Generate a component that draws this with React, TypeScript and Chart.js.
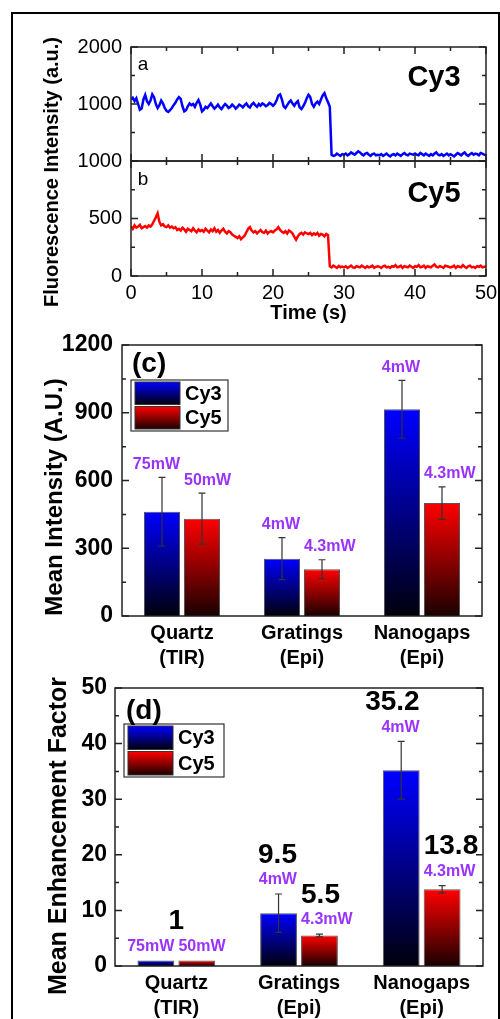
import React, { useEffect, useRef } from "react";
import { Chart, registerables } from "chart.js";

Chart.register(...registerables);

const FONT = "'Liberation Sans', Arial, Helvetica, sans-serif";
Chart.defaults.font.family = FONT;
Chart.defaults.color = "#000";

// ---------------- data ----------------
const timeStepSeconds = 0.25;
const timeTicks = [0, 10, 20, 30, 40, 50];

// Cy3 single-molecule trace (a.u.), one value every 0.25 s from 0 to 50 s
const cy3Trace = [
  1080, 1110, 1050, 1100, 1000, 900, 920, 1080, 1160, 1050, 1000, 1060, 1170, 1120, 1000, 930, 980, 1060, 1010, 930,
  880, 860, 890, 930, 980, 1020, 1080, 1120, 1090, 960, 870, 890, 960, 1010, 980, 1000, 950, 1020, 1070, 990,
  870, 900, 950, 930, 970, 1010, 960, 920, 950, 990, 940, 910, 960, 1000, 970, 930, 950, 990, 960, 920,
  950, 990, 970, 940, 980, 1010, 960, 940, 990, 1020, 980, 950, 1000, 970, 1010, 990, 960, 980, 1020, 1000,
  970, 1000, 1060, 1150, 1170, 1080, 960, 930, 980, 1030, 1060, 1010, 970, 1020, 1050, 940, 910, 960, 1020, 1100,
  1160, 1120, 1000, 950, 1010, 1040, 1000, 1080, 1150, 1190, 1100, 1030, 950, 110, 90, 100, 130, 110, 90, 120,
  110, 130, 100, 120, 150, 130, 110, 140, 170, 150, 120, 100, 130, 140, 110, 90, 120, 130, 100, 110,
  100, 120, 90, 110, 130, 100, 80, 110, 120, 100, 130, 110, 90, 120, 140, 110, 100, 130, 120, 110,
  130, 110, 100, 140, 120, 100, 130, 110, 90, 120, 100, 130, 150, 110, 100, 120, 90, 110, 130, 100,
  120, 100, 80, 110, 140, 120, 100, 130, 150, 110, 90, 120, 140, 110, 130, 120, 100, 140, 130, 110,
  100,
];

// Cy5 single-molecule trace (a.u.), one value every 0.25 s from 0 to 50 s
const cy5Trace = [
  430, 410, 440, 420, 430, 445, 415, 425, 435, 420, 440, 430, 450, 480, 510, 545, 470, 440, 450, 430,
  425, 440, 420, 430, 415, 425, 400, 410, 395, 420, 405, 385, 410, 400, 390, 415, 395, 380, 405, 390,
  400, 385, 410, 395, 380, 405, 390, 415, 385, 400, 375, 395, 410, 385, 370, 390, 380, 360, 350, 340,
  330, 345, 320, 335, 350, 380, 410, 425, 395, 380, 390, 370, 385, 400, 380, 375, 395, 370, 385, 390,
  380, 395, 405, 425, 400, 385, 375, 390, 370, 395, 385, 370, 340, 315, 345, 365, 375, 360, 380, 370,
  365, 375, 355, 370, 360, 375, 350, 365, 360, 345, 365, 355, 85, 75, 90, 80, 70, 88, 76, 82,
  75, 85, 70, 80, 90, 75, 70, 85, 80, 75, 90, 80, 70, 85, 75, 80, 90, 70, 80, 85,
  80, 70, 85, 90, 75, 80, 70, 85, 80, 95, 75, 80, 90, 70, 85, 80, 75, 90, 80, 70,
  85, 80, 95, 75, 80, 90, 70, 85, 80, 75, 90, 100, 80, 75, 85, 80, 70, 90, 85, 80,
  75, 80, 90, 70, 85, 80, 75, 95, 80, 70, 85, 90, 75, 80, 70, 85, 80, 90, 75, 80,
  80,
];

const barCategories = [
  ["Quartz", "(TIR)"],
  ["Gratings", "(Epi)"],
  ["Nanogaps", "(Epi)"],
];
const seriesNames = ["Cy3", "Cy5"];

// (c) mean intensity
const intensityCy3 = [462, 254, 915];
const intensityCy3Err = [152, 93, 128];
const intensityCy5 = [431, 207, 500];
const intensityCy5Err = [113, 42, 72];

// excitation power labels
const powerCy3 = ["75mW", "4mW", "4mW"];
const powerCy5 = ["50mW", "4.3mW", "4.3mW"];

// (d) mean enhancement factor
const enhancementCy3 = [1, 9.5, 35.2];
const enhancementCy3Err = [0, 3.45, 5.2];
const enhancementCy5 = [1, 5.5, 13.8];
const enhancementCy5Err = [0, 0.25, 0.65];
const enhancementCy3Text = ["", "9.5", "35.2"];
const enhancementCy5Text = ["", "5.5", "13.8"];
const enhancementGroupText = ["1", "", ""];

// ---------------- styling ----------------
const PURPLE = "#9933ff";
const BLUE_TOP = "#0000ff";
const BLUE_BOTTOM = "#00000c";
const RED_TOP = "#ff0000";
const RED_BOTTOM = "#1a0000";

function verticalGradient(top: string, bottom: string) {
  return (c: any) => {
    const chart = c.chart;
    if (!chart.chartArea || c.type !== "data") return top;
    const y = chart.scales.y;
    const v = c.parsed ? c.parsed.y : c.raw;
    const y0 = y.getPixelForValue(v);
    const y1 = y.getPixelForValue(0);
    if (!isFinite(y0) || !isFinite(y1) || Math.abs(y1 - y0) < 0.5) return top;
    const g = chart.ctx.createLinearGradient(0, y0, 0, y1);
    g.addColorStop(0, top);
    g.addColorStop(1, bottom);
    return g;
  };
}

// remove automatic label-overflow padding so the plot area stays where it is set
function clearScalePadding(s: any) {
  s.paddingTop = 0;
  s.paddingBottom = 0;
  s.paddingLeft = 0;
  s.paddingRight = 0;
}

// frame + inward tick marks (major from the scale ticks, minor halfway)
function makeFramePlugin(xTicks: boolean, yTicks: boolean) {
  return {
    id: "frame",
    afterDatasetsDraw(chart: any) {
      const { ctx, chartArea: a } = chart;
      ctx.save();
      ctx.strokeStyle = "#222";
      ctx.lineWidth = 1.5;
      const drawAxis = (scale: any, horizontal: boolean) => {
        const vals = scale.ticks.map((t: any) => t.value);
        const marks: number[][] = [];
        vals.forEach((v: number, i: number) => {
          marks.push([v, 7]);
          if (i < vals.length - 1) marks.push([(v + vals[i + 1]) / 2, 4]);
        });
        ctx.beginPath();
        marks.forEach(([v, len]) => {
          const p = scale.getPixelForValue(v);
          if (horizontal) {
            ctx.moveTo(p, a.bottom);
            ctx.lineTo(p, a.bottom - len);
            ctx.moveTo(p, a.top);
            ctx.lineTo(p, a.top + len);
          } else {
            ctx.moveTo(a.left, p);
            ctx.lineTo(a.left + len, p);
            ctx.moveTo(a.right, p);
            ctx.lineTo(a.right - len, p);
          }
        });
        ctx.stroke();
      };
      if (xTicks) drawAxis(chart.scales.x, true);
      if (yTicks) drawAxis(chart.scales.y, false);
      ctx.strokeRect(a.left, a.top, a.right - a.left, a.bottom - a.top);
      ctx.restore();
    },
  };
}

type TextItem = {
  text: string;
  x: number;
  y: number;
  font: string;
  align?: string;
  baseline?: string;
  rotate?: number;
  color?: string;
};

function makeTextPlugin(items: TextItem[], offsetY: number) {
  return {
    id: "panelText",
    afterDraw(chart: any) {
      const { ctx } = chart;
      items.forEach((it) => {
        ctx.save();
        ctx.font = it.font;
        ctx.fillStyle = it.color || "#000";
        ctx.textAlign = it.align || "center";
        ctx.textBaseline = it.baseline || "alphabetic";
        ctx.translate(it.x, it.y - offsetY);
        if (it.rotate) ctx.rotate(it.rotate);
        ctx.fillText(it.text, 0, 0);
        ctx.restore();
      });
    },
  };
}

const errorBarPlugin = {
  id: "errorBars",
  afterDatasetsDraw(chart: any) {
    const { ctx } = chart;
    const y = chart.scales.y;
    ctx.save();
    ctx.strokeStyle = "#333";
    ctx.lineWidth = 1.2;
    chart.data.datasets.forEach((ds: any, di: number) => {
      const errs = ds.errorBars;
      if (!errs) return;
      const meta = chart.getDatasetMeta(di);
      meta.data.forEach((el: any, i: number) => {
        const e = errs[i];
        if (!e) return;
        const v = ds.data[i];
        const yt = y.getPixelForValue(v + e);
        const yb = y.getPixelForValue(v - e);
        const x = el.x;
        const cap = 3.5;
        ctx.beginPath();
        ctx.moveTo(x, yt);
        ctx.lineTo(x, yb);
        ctx.moveTo(x - cap, yt);
        ctx.lineTo(x + cap, yt);
        ctx.moveTo(x - cap, yb);
        ctx.lineTo(x + cap, yb);
        ctx.stroke();
      });
    });
    ctx.restore();
  },
};

function makeBarLabelPlugin(gap: number, stack: number, groupLabels: string[]) {
  return {
    id: "barLabels",
    afterDatasetsDraw(chart: any) {
      const { ctx } = chart;
      const y = chart.scales.y;
      const x = chart.scales.x;
      const tops: number[][] = [];
      ctx.save();
      ctx.textBaseline = "middle";
      ctx.textAlign = "center";
      chart.data.datasets.forEach((ds: any, di: number) => {
        const meta = chart.getDatasetMeta(di);
        meta.data.forEach((el: any, i: number) => {
          const v = ds.data[i];
          const e = (ds.errorBars && ds.errorBars[i]) || 0;
          const errTop = y.getPixelForValue(v + e);
          (tops[i] = tops[i] || []).push(errTop);
          const left = el.x - el.width / 2;
          const right = el.x + el.width / 2;
          const placeX = (w: number) =>
            di === 0 ? Math.min(el.x, right - w / 2) : Math.max(el.x, left + w / 2);
          const py = errTop - gap;
          const p = ds.powerLabels && ds.powerLabels[i];
          if (p) {
            ctx.font = `bold 16px ${FONT}`;
            ctx.fillStyle = PURPLE;
            ctx.fillText(p, placeX(ctx.measureText(p).width), py);
          }
          const t = ds.valueLabels && ds.valueLabels[i];
          if (t) {
            ctx.font = `bold 28px ${FONT}`;
            ctx.fillStyle = "#000";
            ctx.fillText(t, placeX(ctx.measureText(t).width), py - stack);
          }
        });
      });
      groupLabels.forEach((t, i) => {
        if (!t || !tops[i]) return;
        const top = Math.min(...tops[i]);
        ctx.font = `bold 28px ${FONT}`;
        ctx.fillStyle = "#000";
        ctx.fillText(t, x.getPixelForValue(i), top - gap - stack);
      });
      ctx.restore();
    },
  };
}

function makeLegendPlugin(bx: number, by: number, bw: number, bh: number, offsetY: number) {
  return {
    id: "gradLegend",
    afterDraw(chart: any) {
      const { ctx } = chart;
      const top = by - offsetY;
      ctx.save();
      ctx.fillStyle = "#fff";
      ctx.fillRect(bx, top, bw, bh);
      ctx.strokeStyle = "#333";
      ctx.lineWidth = 1.2;
      ctx.strokeRect(bx, top, bw, bh);
      const sh = (bh - 6) / 2;
      chart.data.datasets.forEach((ds: any, i: number) => {
        const sx = bx + 4;
        const sy = top + 2 + i * (sh + 2);
        const g = ctx.createLinearGradient(0, sy, 0, sy + sh);
        g.addColorStop(0, ds.gradientTop);
        g.addColorStop(1, ds.gradientBottom);
        ctx.fillStyle = g;
        ctx.fillRect(sx, sy, 45, sh);
        ctx.strokeStyle = "#333";
        ctx.lineWidth = 1;
        ctx.strokeRect(sx, sy, 45, sh);
        ctx.fillStyle = "#000";
        ctx.font = `bold 20px ${FONT}`;
        ctx.textAlign = "left";
        ctx.textBaseline = "middle";
        ctx.fillText(ds.label, sx + 50, sy + sh / 2 + 1);
      });
      ctx.restore();
    },
  };
}

// ---------------- chart configs ----------------
const toPoints = (arr: number[]) => arr.map((v, i) => ({ x: i * timeStepSeconds, y: v }));

function traceConfig(
  values: number[],
  color: string,
  yMax: number,
  yStep: number,
  hideZero: boolean,
  padTop: number,
  xHeight: number,
  showXLabels: boolean,
  texts: TextItem[]
): any {
  return {
    type: "line",
    data: {
      datasets: [
        {
          data: toPoints(values),
          borderColor: color,
          borderWidth: 2.5,
          pointRadius: 0,
          tension: 0,
          fill: false,
        },
      ],
    },
    options: {
      animation: false,
      responsive: false,
      events: [],
      layout: { padding: { left: 0, top: padTop, right: 14, bottom: 0 } },
      plugins: { legend: { display: false }, tooltip: { enabled: false } },
      scales: {
        x: {
          type: "linear",
          min: timeTicks[0],
          max: timeTicks[timeTicks.length - 1],
          afterBuildTicks: (s: any) => {
            s.ticks = timeTicks.map((v) => ({ value: v }));
          },
          ticks: {
            display: showXLabels,
            font: { size: 20 },
            color: "#000",
            padding: 5,
            maxRotation: 0,
            autoSkip: false,
          },
          title: {
            display: showXLabels,
            text: "Time (s)",
            font: { size: 20, weight: "bold" },
            color: "#000",
            padding: { top: 0, bottom: 5 },
          },
          grid: { display: false, drawTicks: false },
          border: { display: false },
          afterFit: (s: any) => {
            s.height = xHeight;
            clearScalePadding(s);
          },
        },
        y: {
          min: 0,
          max: yMax,
          ticks: {
            stepSize: yStep,
            padding: 9,
            font: { size: 20 },
            color: "#000",
            callback: (v: number) => (hideZero && v === 0 ? "" : String(v)),
          },
          grid: { display: false, drawTicks: false },
          border: { display: false },
          afterFit: (s: any) => {
            s.width = 131;
            clearScalePadding(s);
          },
        },
      },
    },
    plugins: [makeFramePlugin(true, true), makeTextPlugin(texts, 0)],
  };
}

function barConfig(opts: {
  cy3: number[];
  cy3Err: number[];
  cy5: number[];
  cy5Err: number[];
  cy3Text?: string[];
  cy5Text?: string[];
  groupText?: string[];
  yMax: number;
  yStep: number;
  canvasTop: number;
  canvasHeight: number;
  area: { left: number; right: number; top: number; bottom: number };
  tickPad: number;
  gap: number;
  legend: number[];
  texts: TextItem[];
}): any {
  const a = opts.area;
  return {
    type: "bar",
    data: {
      labels: barCategories,
      datasets: [
        {
          label: seriesNames[0],
          data: opts.cy3,
          errorBars: opts.cy3Err,
          powerLabels: powerCy3,
          valueLabels: opts.cy3Text,
          gradientTop: BLUE_TOP,
          gradientBottom: BLUE_BOTTOM,
          backgroundColor: verticalGradient(BLUE_TOP, BLUE_BOTTOM),
          borderColor: "#555",
          borderWidth: 1,
          categoryPercentage: 0.667,
          barPercentage: 0.9,
        },
        {
          label: seriesNames[1],
          data: opts.cy5,
          errorBars: opts.cy5Err,
          powerLabels: powerCy5,
          valueLabels: opts.cy5Text,
          gradientTop: RED_TOP,
          gradientBottom: RED_BOTTOM,
          backgroundColor: verticalGradient(RED_TOP, RED_BOTTOM),
          borderColor: "#555",
          borderWidth: 1,
          categoryPercentage: 0.667,
          barPercentage: 0.9,
        },
      ],
    },
    options: {
      animation: false,
      responsive: false,
      events: [],
      layout: { padding: { left: 0, top: a.top - opts.canvasTop, right: 500 - a.right, bottom: 0 } },
      plugins: { legend: { display: false }, tooltip: { enabled: false } },
      scales: {
        x: {
          ticks: {
            font: { size: 20, weight: "bold", lineHeight: 1.25 },
            color: "#000",
            padding: 4.5,
            maxRotation: 0,
            autoSkip: false,
          },
          grid: { display: false, drawTicks: false },
          border: { display: false },
          afterFit: (s: any) => {
            s.height = opts.canvasTop + opts.canvasHeight - a.bottom;
            clearScalePadding(s);
          },
        },
        y: {
          min: 0,
          max: opts.yMax,
          ticks: {
            stepSize: opts.yStep,
            padding: opts.tickPad,
            font: { size: 23, weight: "bold" },
            color: "#000",
            callback: (v: number) => String(v),
          },
          grid: { display: false, drawTicks: false },
          border: { display: false },
          afterFit: (s: any) => {
            s.width = a.left;
            clearScalePadding(s);
          },
        },
      },
    },
    plugins: [
      makeFramePlugin(false, true),
      errorBarPlugin,
      makeBarLabelPlugin(opts.gap, 25, opts.groupText || []),
      makeLegendPlugin(opts.legend[0], opts.legend[1], opts.legend[2], opts.legend[3], opts.canvasTop),
      makeTextPlugin(opts.texts, opts.canvasTop),
    ],
  };
}

// ---------------- components ----------------
function ChartCanvas({ top, height, config }: { top: number; height: number; config: () => any }) {
  const ref = useRef<HTMLCanvasElement | null>(null);
  useEffect(() => {
    if (!ref.current) return;
    const chart = new Chart(ref.current, config());
    return () => chart.destroy();
  }, []);
  return (
    <canvas
      ref={ref}
      width={500}
      height={height}
      style={{ position: "absolute", left: 0, top, width: 500, height, display: "block" }}
    />
  );
}

export default function App() {
  const HALF_PI = Math.PI / 2;
  return (
    <div
      style={{
        position: "fixed",
        left: 0,
        top: 0,
        width: 500,
        height: 1019,
        overflow: "hidden",
        background: "#fff",
      }}
    >
      <div
        style={{
          position: "absolute",
          left: 11,
          top: 12,
          width: 489,
          height: 1100,
          boxSizing: "border-box",
          border: "2px solid #000",
        }}
      />
      <ChartCanvas
        top={0}
        height={170}
        config={() =>
          traceConfig(cy3Trace, "#0000ff", 2000, 1000, true, 47, 9, false, [
            { text: "a", x: 143, y: 70, font: `19px ${FONT}` },
            { text: "Cy3", x: 434, y: 86, font: `bold 29px ${FONT}` },
          ])
        }
      />
      <ChartCanvas
        top={0}
        height={330}
        config={() =>
          traceConfig(cy5Trace, "#ff0000", 1000, 500, false, 161, 54, true, [
            { text: "b", x: 143, y: 185, font: `19px ${FONT}` },
            { text: "Cy5", x: 434, y: 202, font: `bold 29px ${FONT}` },
            {
              text: "Fluorescence Intensity (a.u.)",
              x: 52,
              y: 172,
              font: `bold 20px ${FONT}`,
              baseline: "middle",
              rotate: -HALF_PI,
            },
          ])
        }
      />
      <ChartCanvas
        top={330}
        height={340}
        config={() =>
          barConfig({
            cy3: intensityCy3,
            cy3Err: intensityCy3Err,
            cy5: intensityCy5,
            cy5Err: intensityCy5Err,
            yMax: 1200,
            yStep: 300,
            canvasTop: 330,
            canvasHeight: 340,
            area: { left: 122, right: 482, top: 345, bottom: 616 },
            tickPad: 9,
            gap: 13,
            legend: [131, 380, 97, 51],
            texts: [
              { text: "(c)", x: 132, y: 372, font: `bold 28px ${FONT}`, align: "left" },
              {
                text: "Mean Intensity (A.U.)",
                x: 55,
                y: 497,
                font: `bold 24px ${FONT}`,
                baseline: "middle",
                rotate: -HALF_PI,
              },
            ],
          })
        }
      />
      <ChartCanvas
        top={670}
        height={349}
        config={() =>
          barConfig({
            cy3: enhancementCy3,
            cy3Err: enhancementCy3Err,
            cy5: enhancementCy5,
            cy5Err: enhancementCy5Err,
            cy3Text: enhancementCy3Text,
            cy5Text: enhancementCy5Text,
            groupText: enhancementGroupText,
            yMax: 50,
            yStep: 10,
            canvasTop: 670,
            canvasHeight: 349,
            area: { left: 115, right: 483, top: 688, bottom: 966 },
            tickPad: 8,
            gap: 14,
            legend: [124, 724, 100, 53],
            texts: [
              { text: "(d)", x: 126, y: 719, font: `bold 28px ${FONT}`, align: "left" },
              {
                text: "Mean Enhancement Factor",
                x: 59,
                y: 836,
                font: `bold 25px ${FONT}`,
                baseline: "middle",
                rotate: -HALF_PI,
              },
            ],
          })
        }
      />
    </div>
  );
}
